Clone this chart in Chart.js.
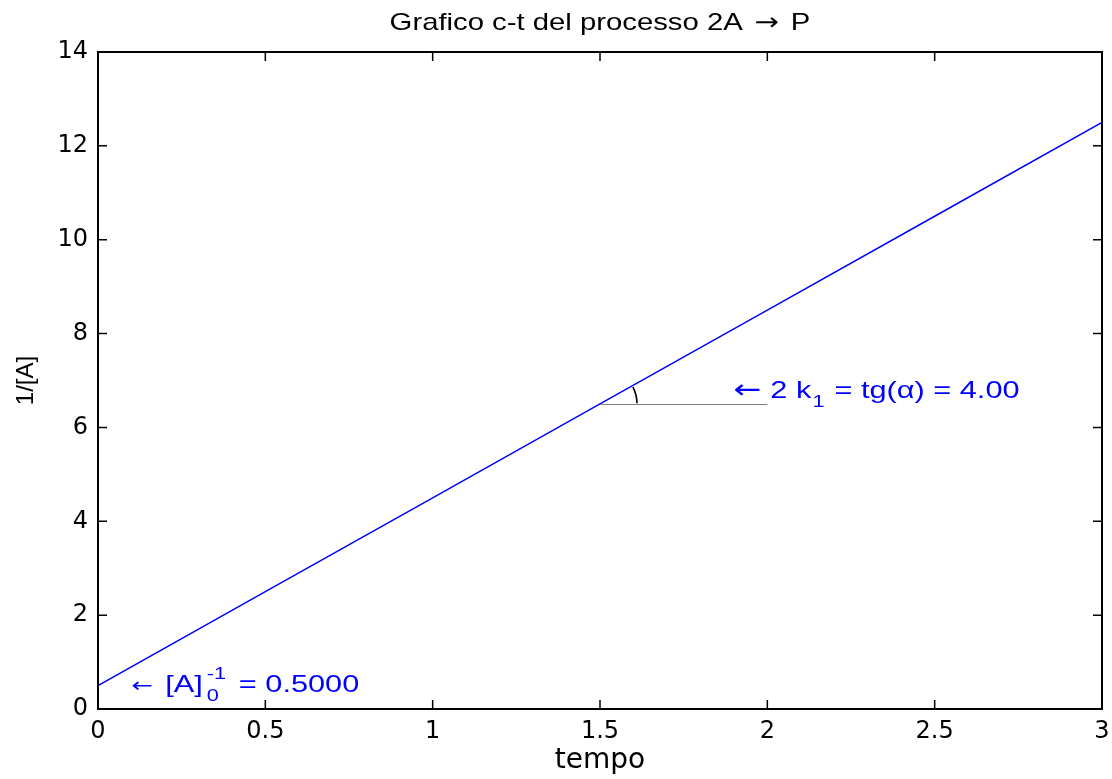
<!DOCTYPE html>
<html>
<head>
<meta charset="utf-8">
<script src="https://cdn.jsdelivr.net/npm/chart.js@4.4.1/dist/chart.umd.min.js"></script>
<style>
html,body{margin:0;padding:0;background:#fff;}
canvas{display:block;}
</style>
</head>
<body>
<canvas id="c" width="1112" height="779"></canvas>
<script>
// ---- data ----
const tempo = [0, 0.5, 1, 1.5, 2, 2.5, 3];
const invA = [0.5, 2.5, 4.5, 6.5, 8.5, 10.5, 12.5];
const xTicks = [0, 0.5, 1, 1.5, 2, 2.5, 3];
const yTicks = [0, 2, 4, 6, 8, 10, 12, 14];
const slopeLine = {x: [1.5, 2.0], y: [6.5, 6.5]};
const slopeLabelPos = {x: 1.9, y: 6.8};
const interceptLabelPos = {x: 0.1, y: 0.53};
const titleText = 'Grafico c-t del processo 2A';
const titleArrow = '\u2192';
const titleEnd = 'P';

const FONT = '"Liberation Sans", Arial, sans-serif';
const TFONT = '"DejaVu Sans", sans-serif';

// draw a run of text parts with horizontal stretch, starting at (x, y) baseline alphabetic
function drawRich(ctx, x, y, stretch, parts) {
  ctx.save();
  ctx.translate(x, y);
  ctx.scale(stretch, 1);
  let cx = 0;
  for (const p of parts) {
    ctx.font = p.size + 'px ' + (p.family || FONT);
    if (p.gap) cx += p.gap;
    ctx.fillText(p.t, cx, p.dy || 0);
    const w = ctx.measureText(p.t).width;
    if (!p.noAdvance) cx += w;
  }
  ctx.restore();
}

const boxPlugin = {
  id: 'box',
  afterDatasetsDraw(chart) {
    const ctx = chart.ctx;
    const a = chart.chartArea;
    const xs = chart.scales.x, ys = chart.scales.y;
    ctx.save();
    // slope reference line
    ctx.strokeStyle = '#808080';
    ctx.lineWidth = 1;
    ctx.beginPath();
    ctx.moveTo(xs.getPixelForValue(slopeLine.x[0]), Math.round(ys.getPixelForValue(slopeLine.y[0])) + 0.5);
    ctx.lineTo(xs.getPixelForValue(slopeLine.x[1]), Math.round(ys.getPixelForValue(slopeLine.y[1])) + 0.5);
    ctx.stroke();
    // angle arc
    const cx0 = xs.getPixelForValue(slopeLine.x[0]);
    const cy0 = ys.getPixelForValue(slopeLine.y[0]);
    const px = xs.getPixelForValue(2.0) - cx0;
    const py = ys.getPixelForValue(8.5) - cy0;
    const ang = Math.atan2(py, px);
    ctx.strokeStyle = '#000';
    ctx.lineWidth = 1.6;
    ctx.beginPath();
    ctx.arc(cx0, cy0, 37, ang + 0.04, -0.02, false);
    ctx.stroke();

    // box
    ctx.strokeStyle = '#000';
    ctx.lineWidth = 2;
    ctx.strokeRect(a.left, a.top, a.right - a.left, a.bottom - a.top);
    // inward ticks
    const tl = 9;
    ctx.lineWidth = 1.5;
    ctx.beginPath();
    for (const v of xTicks) {
      const p = xs.getPixelForValue(v);
      ctx.moveTo(p, a.bottom); ctx.lineTo(p, a.bottom - tl);
      ctx.moveTo(p, a.top); ctx.lineTo(p, a.top + tl);
    }
    for (const v of yTicks) {
      const p = ys.getPixelForValue(v);
      ctx.moveTo(a.left, p); ctx.lineTo(a.left + tl, p);
      ctx.moveTo(a.right, p); ctx.lineTo(a.right - tl, p);
    }
    ctx.stroke();

    // title
    const TS = 1.22;
    ctx.fillStyle = '#000';
    ctx.textBaseline = 'alphabetic';
    ctx.textAlign = 'left';
    ctx.font = '24px ' + FONT;
    const wt1 = ctx.measureText(titleText + ' ').width;
    ctx.font = '24px ' + TFONT;
    const wa = ctx.measureText(titleArrow).width;
    ctx.font = '24px ' + FONT;
    const wt3 = ctx.measureText(' ' + titleEnd).width;
    const totalW = (wt1 + wa + 6 + wt3) * TS;
    const tx = (a.left + a.right) / 2 - totalW / 2;
    drawRich(ctx, tx, 30, TS, [
      {t: titleText + ' ', size: 24},
      {t: titleArrow, size: 24, family: TFONT, gap: 3},
      {t: ' ' + titleEnd, size: 24, gap: 3}
    ]);

    // annotations
    const AS = 1.28;
    ctx.fillStyle = '#0000ff';
    const sx = xs.getPixelForValue(slopeLabelPos.x);
    const sy = ys.getPixelForValue(slopeLabelPos.y) + 8;
    drawRich(ctx, sx, sy, AS, [
      {t: '\u2190', size: 26, family: TFONT},
      {t: ' 2 k', size: 24},
      {t: '1', size: 17, dy: 9, gap: 1},
      {t: ' = tg(\u03b1) = 4.00', size: 24, gap: 1}
    ]);
    const ix = xs.getPixelForValue(interceptLabelPos.x);
    const iy = ys.getPixelForValue(interceptLabelPos.y) + 8;
    drawRich(ctx, ix, iy, AS, [
      {t: '\u2190', size: 20, family: TFONT},
      {t: ' [A]', size: 24, gap: 3},
      {t: '-1', size: 17, dy: -13, gap: 3, noAdvance: true},
      {t: '0', size: 17, dy: 9, gap: 0},
      {t: ' = 0.5000', size: 24, gap: 9}
    ]);
    ctx.restore();
  }
};

new Chart(document.getElementById('c'), {
  type: 'line',
  data: {
    datasets: [{
      data: tempo.map((t, i) => ({x: t, y: invA[i]})),
      borderColor: '#0000ff',
      borderWidth: 1.5,
      pointRadius: 0,
      tension: 0,
      fill: false
    }]
  },
  options: {
    responsive: false,
    animation: false,
    devicePixelRatio: 1,
    layout: {padding: {left: 0, right: 10, top: 52, bottom: 0}},
    plugins: {
      legend: {display: false},
      tooltip: {enabled: false},
      title: {display: false}
    },
    scales: {
      x: {
        type: 'linear',
        min: 0, max: 3,
        afterBuildTicks(s) { s.ticks = xTicks.map(v => ({value: v})); },
        afterFit(s) { s.height = 70; s.paddingLeft = 0; s.paddingRight = 0; },
        grid: {display: false, drawTicks: false},
        border: {display: false},
        ticks: {color: '#000', font: {family: TFONT, size: 24}, padding: 8, maxRotation: 0,
          callback: v => String(v)},
        title: {display: true, text: 'tempo', color: '#000', font: {family: TFONT, size: 28}, padding: {top: 0, bottom: 1}}
      },
      y: {
        type: 'linear',
        min: 0, max: 14,
        afterBuildTicks(s) { s.ticks = yTicks.map(v => ({value: v})); },
        afterFit(s) { s.width = 98; s.paddingTop = 0; s.paddingBottom = 0; },
        grid: {display: false, drawTicks: false},
        border: {display: false},
        ticks: {color: '#000', font: {family: TFONT, size: 24}, padding: 10,
          callback: v => String(v)},
        title: {display: true, text: '1/[A]', color: '#000', font: {family: FONT, size: 24}, padding: {top: 12, bottom: 0}}
      }
    }
  },
  plugins: [boxPlugin]
});
</script>
</body>
</html>
